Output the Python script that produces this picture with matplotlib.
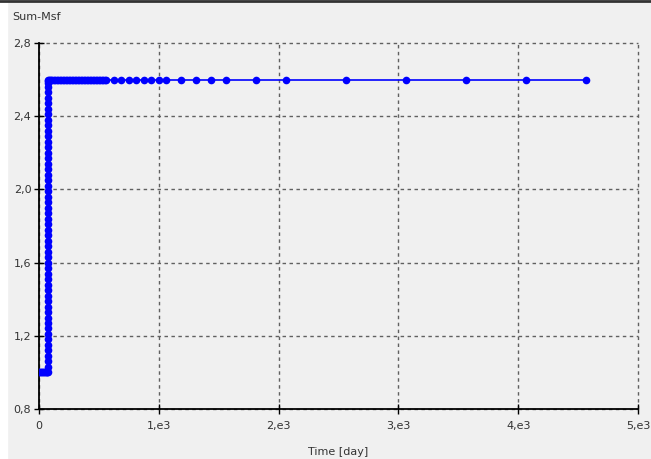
import matplotlib.pyplot as plt

# time steps (days) and Sum-Msf values
low_days = [0, 8, 16, 24, 32, 40, 48, 56, 64, 70]
low_msf = [1.0, 1.0, 1.0, 1.0, 1.0, 1.0, 1.0, 1.0, 1.0, 1.0]

rise_days = [75, 75, 75, 75, 75, 75, 75, 75, 75, 75, 75, 75, 75, 75, 75, 75,
             75, 75, 75, 75, 75, 75, 75, 75, 75, 75, 75, 75, 75, 75, 75, 75,
             75, 75, 75, 75, 75, 75, 75, 75, 75, 75, 75, 75, 75, 75, 75, 75,
             75, 75, 75, 75, 75, 75, 75, 75]
rise_msf = [1.0, 1.03, 1.06, 1.09, 1.12, 1.15, 1.18, 1.21, 1.24, 1.27, 1.3, 1.33,
            1.36, 1.39, 1.42, 1.45, 1.48, 1.51, 1.54, 1.57, 1.6, 1.63, 1.66, 1.69,
            1.72, 1.75, 1.78, 1.81, 1.84, 1.87, 1.9, 1.93, 1.96, 1.99, 2.02, 2.05,
            2.08, 2.11, 2.14, 2.17, 2.2, 2.23, 2.26, 2.29, 2.32, 2.35, 2.38, 2.41,
            2.44, 2.47, 2.5, 2.53, 2.56, 2.58, 2.59, 2.6]

high_days = [80, 90, 100, 112.5, 125, 137.5, 150, 162.5, 175, 187.5, 200,
             212.5, 225, 237.5, 250, 262.5, 275, 287.5, 300, 312.5, 325,
             337.5, 350, 362.5, 375, 387.5, 400, 412.5, 425, 437.5, 450,
             462.5, 475, 487.5, 500, 512.5, 525, 537.5, 550, 562.5,
             625, 687.5, 750, 812.5, 875, 937.5, 1000, 1062.5,
             1187.5, 1312.5, 1437.5, 1562.5, 1812.5, 2062.5,
             2562.5, 3062.5, 3562.5, 4062.5, 4562.5]
high_msf = [2.6] * len(high_days)

time_days = low_days + rise_days + high_days
sum_msf = low_msf + rise_msf + high_msf

x_ticks = [0, 1000, 2000, 3000, 4000, 5000]
x_labels = ["0", "1,e3", "2,e3", "3,e3", "4,e3", "5,e3"]
y_ticks = [0.8, 1.2, 1.6, 2.0, 2.4, 2.8]
y_labels = ["0,8", "1,2", "1,6", "2,0", "2,4", "2,8"]

bg = "#f0f0f0"
fig = plt.figure(figsize=(6.51, 4.59), dpi=100, facecolor=bg)
ax = fig.add_axes([39 / 651, 50 / 459, 599 / 651, 366 / 459], facecolor=bg)

ax.plot(time_days, sum_msf, "-o", color="#0000ff", lw=1.2, ms=5.5,
        markeredgewidth=0, zorder=3)

ax.set_xlim(0, 5000)
ax.set_ylim(0.8, 2.8)
ax.set_xticks(x_ticks)
ax.set_xticklabels(x_labels)
ax.set_yticks(y_ticks)
ax.set_yticklabels(y_labels)
ax.tick_params(direction="inout", length=7, width=1, labelsize=8,
               labelcolor="#333333")
ax.tick_params(axis="x", pad=5)
ax.tick_params(axis="y", pad=2)

ax.grid(True, color="#606060", linestyle=(0, (2.5, 2.5)), linewidth=1)
for gl in ax.get_xgridlines() + ax.get_ygridlines():
    gl.set_clip_on(False)
for side in ["top", "right"]:
    ax.spines[side].set_visible(False)
for side in ["left", "bottom"]:
    ax.spines[side].set_linewidth(1.3)
    ax.spines[side].set_color("black")

ax.set_xlabel("Time [day]", fontsize=8, color="#333333", labelpad=12)
fig.text(12 / 651, 1 - 17 / 459, "Sum-Msf", fontsize=8, color="#333333",
         va="center", ha="left")

# white left strip and dark top border as in the screenshot
fig.patches.append(plt.Rectangle((0, 0), 7 / 651, 1, transform=fig.transFigure,
                                 color="white", zorder=0))
fig.lines.append(plt.Line2D([0, 1], [1 - 1 / 459, 1 - 1 / 459],
                            transform=fig.transFigure, color="#333333", lw=2))

plt.savefig("out.png", dpi=100, facecolor=bg)
